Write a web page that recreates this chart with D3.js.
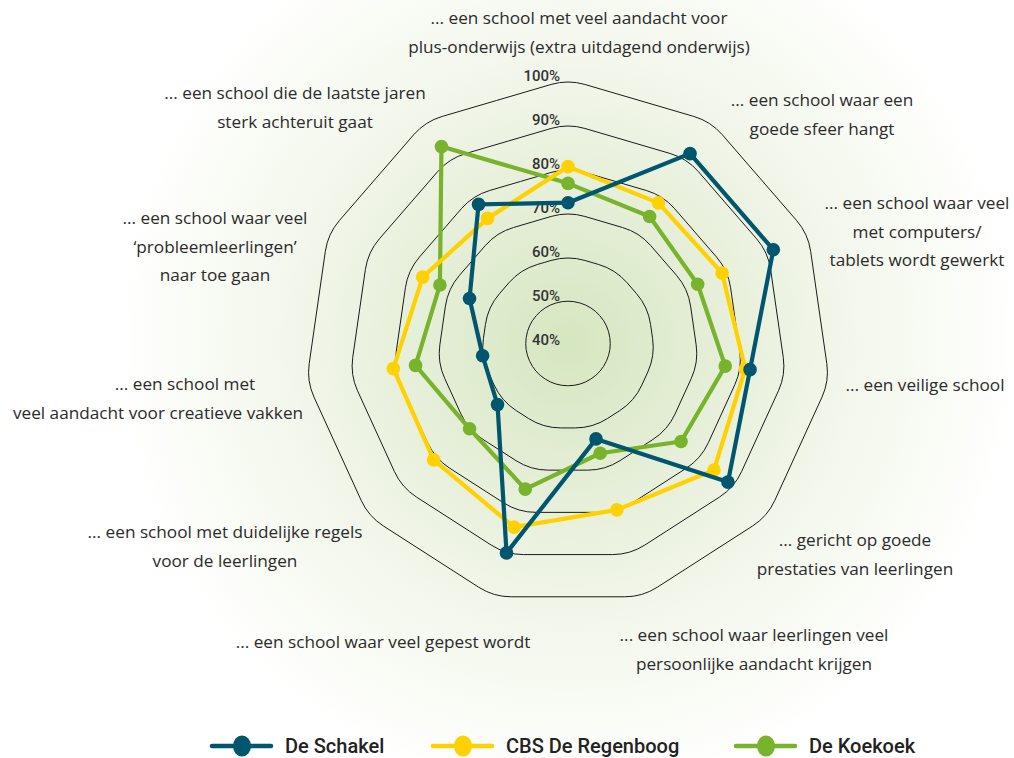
<!DOCTYPE html>
<html>
<head>
<meta charset="utf-8">
<script src="https://cdn.jsdelivr.net/npm/d3@7"></script>
<style>
  html, body { margin: 0; padding: 0; background: #ffffff; }
  svg { display: block; }
</style>
</head>
<body>
<svg id="chart" width="1014" height="758"></svg>
<script>
// ---------- DATA ----------
const categories = [
  ["... een school met veel aandacht voor", "plus-onderwijs (extra uitdagend onderwijs)"],
  ["... een school waar een", "goede sfeer hangt"],
  ["... een school waar veel", "met computers/", "tablets wordt gewerkt"],
  ["... een veilige school"],
  ["... gericht op goede", "prestaties van leerlingen"],
  ["... een school waar leerlingen veel", "persoonlijke aandacht krijgen"],
  ["... een school waar veel gepest wordt"],
  ["... een school met duidelijke regels", "voor de leerlingen"],
  ["... een school met", "veel aandacht voor creatieve vakken"],
  ["... een school waar veel", "\u2018probleemleerlingen\u2019", "naar toe gaan"],
  ["... een school die de laatste jaren", "sterk achteruit gaat"]
];
const seriesNames = ["De Schakel", "CBS De Regenboog", "De Koekoek"];
const deSchakel     = [72.0, 91.3, 91.3, 81.8, 88.1, 62.6, 89.6, 61.2, 59.6, 64.6, 77.6];
const cbsRegenboog  = [80.2, 78.0, 78.5, 80.7, 83.9, 79.4, 83.5, 80.4, 80.1, 76.3, 73.8];
const deKoekoek     = [76.4, 74.3, 72.4, 76.1, 74.0, 66.0, 74.5, 69.6, 75.0, 72.0, 93.2];
const tickValues = [40, 50, 60, 70, 80, 90, 100];
const tickLabels = ["40%", "50%", "60%", "70%", "80%", "90%", "100%"];

// ---------- LAYOUT / STYLE ----------
const W = 1014, H = 758;
const cx = 568, cy = 343.5, R = 264;
const colors = ["#00566e", "#ffd100", "#77b32b"];
const labelLayout = [
  {x: 579, y: 18}, {x: 822, y: 100}, {x: 917, y: 203}, {x: 925, y: 385},
  {x: 855, y: 540}, {x: 754, y: 635}, {x: 383, y: 642}, {x: 225, y: 532},
  {x: 158, y: 384, dx: [27, 0]}, {x: 215, y: 218}, {x: 295, y: 93}
];
const lineGap = 28.5;

const svg = d3.select("#chart");
const defs = svg.append("defs");
const grad = defs.append("radialGradient").attr("id", "bg")
  .attr("gradientUnits", "userSpaceOnUse")
  .attr("cx", cx).attr("cy", cy).attr("r", 450);
[[0, "#d6e6c0"], [0.3, "#e4eed6"], [0.6, "#f2f6ea"], [0.85, "#fafcf6"], [1, "#ffffff"]]
  .forEach(([o, c]) => grad.append("stop").attr("offset", o).attr("stop-color", c));
svg.append("rect").attr("width", W).attr("height", H).attr("fill", "url(#bg)");

const n = categories.length;
const rScale = d3.scaleLinear().domain([40, 100]).range([0, R]);
const angle = i => i * 2 * Math.PI / n; // 0 = up, clockwise
const px = (i, v) => cx + rScale(v) * Math.sin(angle(i));
const py = (i, v) => cy - rScale(v) * Math.cos(angle(i));

const g = svg.append("g");

// rounded polygon grid rings
function roundedRing(v) {
  const rr = rScale(v);
  const pts = d3.range(n).map(i => [cx + rr * Math.sin(angle(i)), cy - rr * Math.cos(angle(i))]);
  const half = Math.PI / n;
  const rc = Math.min(60, rr * Math.sin(half) / Math.tan(half) * 0.98);
  const p = d3.path();
  const m0 = [(pts[n - 1][0] + pts[0][0]) / 2, (pts[n - 1][1] + pts[0][1]) / 2];
  p.moveTo(m0[0], m0[1]);
  for (let i = 0; i < n; i++) {
    const a = pts[i], b = pts[(i + 1) % n];
    p.arcTo(a[0], a[1], b[0], b[1], rc);
  }
  p.closePath();
  return p.toString();
}
g.append("g").selectAll("path").data(tickValues.filter(t => t > 40)).join("path")
  .attr("d", d => roundedRing(d))
  .attr("fill", "none").attr("stroke", "#1a1a1a").attr("stroke-width", 1);

// tick labels
g.append("g").selectAll("text").data(tickValues).join("text")
  .attr("x", cx - 8)
  .attr("y", d => cy - rScale(d) + 1)
  .attr("text-anchor", "end")
  .attr("font-family", "Roboto, sans-serif")
  .attr("font-weight", 500)
  .attr("font-size", 15)
  .attr("fill", "#333333")
  .text((d, i) => tickLabels[i]);

// series
const seriesData = [deSchakel, cbsRegenboog, deKoekoek];
const drawOrder = [2, 1, 0];
const radial = d3.lineRadial()
  .angle((d, i) => angle(i))
  .radius(d => rScale(d))
  .curve(d3.curveLinearClosed);
drawOrder.forEach(si => {
  const sg = g.append("g").attr("transform", `translate(${cx},${cy})`);
  sg.append("path").attr("d", radial(seriesData[si]))
    .attr("fill", "none").attr("stroke", colors[si]).attr("stroke-width", 4.2)
    .attr("stroke-linejoin", "round");
  sg.selectAll("circle").data(seriesData[si]).join("circle")
    .attr("cx", (d, i) => px(i, d) - cx)
    .attr("cy", (d, i) => py(i, d) - cy)
    .attr("r", 6.8).attr("fill", colors[si]);
});

// category labels
const lab = g.append("g")
  .attr("font-family", "'Open Sans', sans-serif")
  .attr("font-size", 17.2)
  .attr("fill", "#2b2b2b")
  .attr("text-anchor", "middle");
categories.forEach((lines, i) => {
  const L = labelLayout[i];
  lines.forEach((t, j) => {
    lab.append("text")
      .attr("x", L.x + (L.dx ? L.dx[j] : 0))
      .attr("y", L.y + j * lineGap)
      .attr("dy", "0.35em")
      .text(t);
  });
});

// legend
const legendX = [212, 433, 736];
const leg = svg.append("g");
seriesNames.forEach((name, i) => {
  const x0 = legendX[i], y0 = 746;
  leg.append("line").attr("x1", x0).attr("x2", x0 + 59).attr("y1", y0).attr("y2", y0)
    .attr("stroke", colors[i]).attr("stroke-width", 4.5).attr("stroke-linecap", "round");
  leg.append("ellipse").attr("cx", x0 + 30).attr("cy", y0).attr("rx", 9).attr("ry", 10.5)
    .attr("fill", colors[i]);
  leg.append("text").attr("x", x0 + 73).attr("y", y0).attr("dy", "0.36em")
    .attr("font-family", "Roboto, sans-serif").attr("font-weight", 500)
    .attr("font-size", 20).attr("fill", "#222222").text(name);
});
</script>
</body>
</html>
